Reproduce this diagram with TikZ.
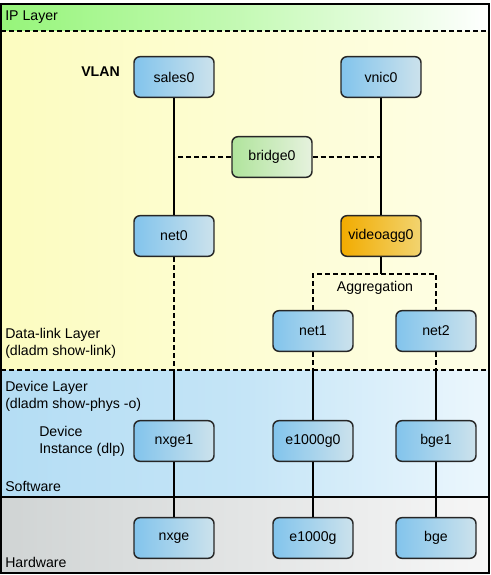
\documentclass[tikz,border=0pt]{standalone}
\usepackage{fontspec}
\setmainfont{Liberation Sans}
\usepackage{xcolor}
\usepackage{tikz}
\usetikzlibrary{
    positioning,
    calc
}
\definecolor{ipgreen}{RGB}{150,245,122}
\definecolor{dlyellow}{RGB}{252,252,192}
\definecolor{dlyellowR}{RGB}{254,254,230}
\definecolor{devblue}{RGB}{180,221,244}
\definecolor{devblueR}{RGB}{236,247,253}
\definecolor{hwgray}{RGB}{208,212,212}
\definecolor{hwgrayR}{RGB}{246,246,246}
\definecolor{linkL}{RGB}{130,196,236}
\definecolor{linkR}{RGB}{204,226,236}
\definecolor{bridgeL}{RGB}{176,228,156}
\definecolor{bridgeR}{RGB}{230,242,222}
\definecolor{aggL}{RGB}{242,172,0}
\definecolor{aggR}{RGB}{242,212,112}
\tikzset{
  basic/.style = {
      draw=black!85,
      line width=1.1pt,
      rounded corners=4.5pt,
      minimum width=60pt,
      minimum height=30.5pt,
      inner sep=0pt,
      font=\fontsize{10.6}{12}\selectfont,
      align=center
  },
  link/.style = {
      basic,
      left color=linkL,
      right color=linkR
  },
  bridge/.style = {
      basic,
      left color=bridgeL,
      right color=bridgeR
  },
  agg/.style = {
      basic,
      left color=aggL,
      right color=aggR
  },
  layer/.style = {
      anchor=west,
      align=left,
      inner sep=0pt,
      font=\fontsize{10.6}{12.75}\selectfont
  },
  wire/.style = {
      line width=1pt
  },
  dashwire/.style = {
      wire,
      dash pattern=on 3.75pt off 2.25pt
  }
}
\begin{document}
\begin{tikzpicture}[x=0.75pt, y=-0.75pt]
    \useasboundingbox (0,0) rectangle (491,575);
    % Layers
    \shade[left color=ipgreen, right color=white, middle color=ipgreen!55!white] (1,4) rectangle (489,31);
    \shade[left color=dlyellow, right color=dlyellowR] (1,31) rectangle (489,370);
    \shade[left color=devblue, right color=devblueR, middle color=devblue!70!devblueR] (1,370) rectangle (489,497);
    \shade[left color=hwgray, right color=hwgrayR] (1,497) rectangle (489,573);
    \coordinate (ip) at (0,31);
    \coordinate (dl) at (0,370);
    \coordinate (hw) at (0,497);
    \draw[dashwire] (1,31) -- (489,31);
    \draw[dashwire] (1,370) -- (489,370);
    \draw[wire] (1,497) -- (489,497);
    \draw[line width=1.2pt] (1,4) rectangle (489,573);
    % Labels
    \node[layer] (iplabel) at (5,17) {IP Layer};
    \node[layer, font=\fontsize{10.6}{12}\selectfont\bfseries] (vlan) at (81,72) {VLAN};
    \node[layer] (dllabel) at (5,343) {Data-link Layer\\(dladm show-link)};
    \node[layer] (devlabel) at (5,396) {Device Layer\\(dladm show-phys -o)};
    \node[layer] (dlp) at (39,441) {Device\\Instance (dlp)};
    \node[layer] (sw) at (5,486) {Software};
    \node[layer] (hwlabel) at (5,562) {Hardware};
    % Nodes
    \node[link] (sales0) at (174,77) {sales0};
    \node[link] (vnic0) at (381,77) {vnic0};
    \node[bridge] (bridge0) at (272,157) {bridge0};
    \node[link] (net0) at (174,236) {net0};
    \node[agg] (videoagg0) at (381,236) {videoagg0};
    \coordinate (aggtop) at (381,274);
    \node[font=\fontsize{10.6}{12}\selectfont] (aggtext) at (375,288) {Aggregation};
    \node[link] (net1) at (313,331) {net1};
    \node[link] (net2) at (436,331) {net2};
    \node[link] (nxge1) at (174,441) {nxge1};
    \node[link] (e1000g0) at (313,441) {e1000g0};
    \node[link] (bge1) at (436,441) {bge1};
    \node[link] (nxge) at (174,538) {nxge};
    \node[link] (e1000g) at (313,538) {e1000g};
    \node[link] (bge) at (436,538) {bge};
    % Edges
    \draw[wire] (sales0) -- (net0);
    \draw[wire] (vnic0) -- (videoagg0);
    \draw[dashwire] (bridge0) -- (bridge0 -| sales0);
    \draw[dashwire] (bridge0) -- (bridge0 -| vnic0);
    \draw[wire] (videoagg0) -- (aggtop);
    \draw[dashwire] (net1) |- (aggtop) -| (net2);
    \draw[dashwire] (net0) -- (net0 |- dl);
    \draw[dashwire] (net1) -- (net1 |- dl);
    \draw[dashwire] (net2) -- (net2 |- dl);
    \draw[wire] (net0 |- dl) -- (nxge1);
    \draw[wire] (net1 |- dl) -- (e1000g0);
    \draw[wire] (net2 |- dl) -- (bge1);
    \draw[wire] (nxge1) -- (nxge);
    \draw[wire] (e1000g0) -- (e1000g);
    \draw[wire] (bge1) -- (bge);
\end{tikzpicture}
\end{document}
